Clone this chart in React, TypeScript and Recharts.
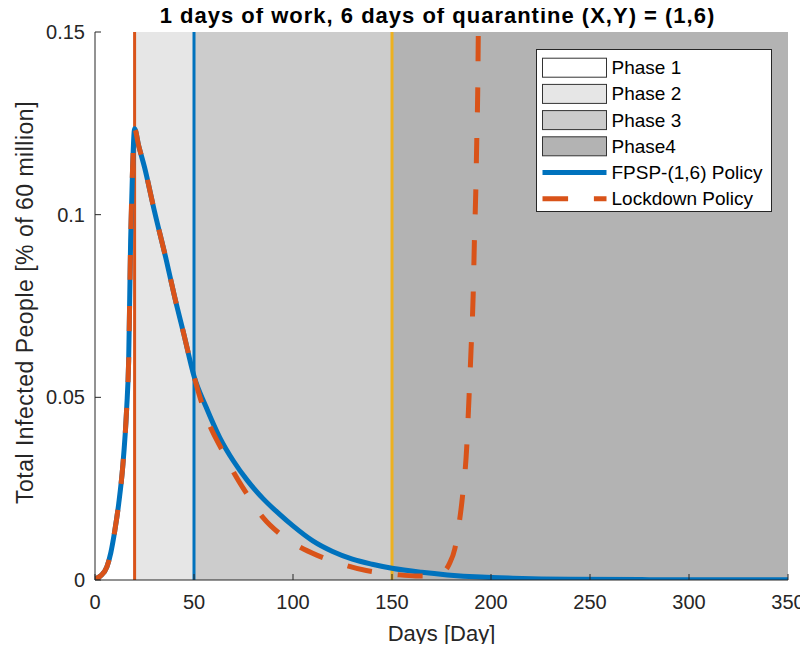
import React from 'react';
import { LineChart, Line, XAxis, YAxis, ReferenceArea, ReferenceLine, Legend } from 'recharts';

const titleText = '1 days of work, 6 days of quarantine (X,Y) = (1,6)';
const xLabelText = 'Days [Day]';
const yLabelText = 'Total Infected People [% of 60 million]';

const xTicks = [0, 50, 100, 150, 200, 250, 300, 350];
const yTicks = [0, 0.05, 0.1, 0.15];

const phaseNames = ['Phase 1', 'Phase 2', 'Phase 3', 'Phase4'];
const phaseStarts = [0, 20, 50, 150];
const phaseEnds = [20, 50, 150, 350];
const phaseColors = ['#ffffff', '#e6e6e6', '#cccccc', '#b3b3b3'];

const markerDays = [20, 50, 150];
const markerColors = ['#D95319', '#0072BD', '#EDB120'];

const fpspName = 'FPSP-(1,6) Policy';
const lockName = 'Lockdown Policy';

const fpspDays = [0, 3, 6, 8, 10, 12, 14, 16, 17, 18, 19, 20, 22, 25, 30, 36, 40, 45, 50, 56, 63, 70, 77, 85, 93, 100, 110, 120, 130, 140, 150, 165, 178, 195, 211, 240, 280, 350];
const fpspValues = [0.0003, 0.0012, 0.0036, 0.0075, 0.0135, 0.021, 0.031, 0.047, 0.06, 0.093, 0.113, 0.1235, 0.119, 0.113, 0.101, 0.0876, 0.078, 0.067, 0.0558, 0.0475, 0.039, 0.0325, 0.0272, 0.0222, 0.0181, 0.0148, 0.0107, 0.0078, 0.0057, 0.0043, 0.0032, 0.0021, 0.0014, 0.0008, 0.0005, 0.0002, 0.0001, 0.00005];

const lockDays = [0, 3, 6, 8, 10, 12, 14, 16, 17, 18, 19, 20, 22, 25, 30, 36, 40, 45, 50, 56, 65, 70, 77, 85, 93, 100, 112, 125, 137, 144, 152, 162, 168, 173, 177, 179, 181.7, 183.5, 185.5, 187.7, 188.9, 190, 191, 191.6, 192.3, 192.8, 193.3, 193.6, 194.3];
const lockValues = [0.0003, 0.0012, 0.0036, 0.0075, 0.0135, 0.021, 0.031, 0.047, 0.06, 0.093, 0.113, 0.1235, 0.119, 0.113, 0.101, 0.0876, 0.078, 0.067, 0.0558, 0.045, 0.0347, 0.0295, 0.0233, 0.017, 0.0128, 0.0101, 0.0068, 0.0043, 0.0026, 0.002, 0.0015, 0.0011, 0.0011, 0.0016, 0.0027, 0.0045, 0.0085, 0.014, 0.0224, 0.036, 0.05, 0.064, 0.078, 0.0925, 0.106, 0.12, 0.134, 0.15, 0.17];

const fpspData = fpspDays.map((d, i) => ({ day: d, value: fpspValues[i] }));
const lockData = lockDays.map((d, i) => ({ day: d, value: lockValues[i] }));

const FONT = '"Liberation Sans", Arial, Helvetica, sans-serif';
const AXIS = '#262626';

const LegendBox = () => {
  const rowH = 26.2;
  const y0 = 18.7;
  return (
    <svg width={236} height={164} style={{ display: 'block' }}>
      <rect x={0.5} y={0.5} width={235} height={162} fill="#ffffff" stroke={AXIS} strokeWidth={1} />
      {phaseNames.map((n, i) => (
        <g key={n}>
          <rect x={6.5} y={y0 + i * rowH - 9.5} width={64} height={19} fill={phaseColors[i]} stroke="#333333" strokeWidth={1} />
          <text x={75.5} y={y0 + i * rowH} dominantBaseline="central" fontFamily={FONT} fontSize={19} fill="#000">{n}</text>
        </g>
      ))}
      <line x1={6.5} x2={70.5} y1={y0 + 4 * rowH} y2={y0 + 4 * rowH} stroke="#0072BD" strokeWidth={5} />
      <text x={75.5} y={y0 + 4 * rowH} dominantBaseline="central" fontFamily={FONT} fontSize={19} fill="#000">{fpspName}</text>
      <line x1={6.5} x2={70.5} y1={y0 + 5 * rowH} y2={y0 + 5 * rowH} stroke="#D95319" strokeWidth={5} strokeDasharray="25.6 25.8" />
      <text x={75.5} y={y0 + 5 * rowH} dominantBaseline="central" fontFamily={FONT} fontSize={19} fill="#000">{lockName}</text>
    </svg>
  );
};

const XLabel = (props: any) => {
  const vb = props.viewBox || {};
  const cx = (vb.x || 0) + (vb.width || 0) / 2;
  return (
    <g>
      <text x={cx - 4} y={23} textAnchor="middle" fontFamily={FONT} fontSize={22} fontWeight="bold" letterSpacing={1} fill="#000">{titleText}</text>
      <text x={cx} y={(vb.y || 0) + 53} textAnchor="middle" dominantBaseline="central" fontFamily={FONT} fontSize={22} fill={AXIS}>{xLabelText}</text>
    </g>
  );
};

const YLabel = (props: any) => {
  const vb = props.viewBox || {};
  const cx = (vb.x || 0) + 25;
  const cy = (vb.y || 0) + (vb.height || 0) / 2 - 3.5;
  return (
    <text x={cx} y={cy} transform={`rotate(-90, ${cx}, ${cy})`} textAnchor="middle" dominantBaseline="central" fontFamily={FONT} fontSize={23} letterSpacing={0.5} fill={AXIS}>{yLabelText}</text>
  );
};

const EmptyTick = () => <g />;

export default function App() {
  return (
    <div style={{ width: 808, height: 652, margin: -8 }}>
      <LineChart width={808} height={652} margin={{ top: 32, right: 20, bottom: 12, left: 0 }}>
        {phaseNames.map((n, i) => (
          <ReferenceArea key={n} x1={phaseStarts[i]} x2={phaseEnds[i]} y1={0} y2={0.15} fill={phaseColors[i]} fillOpacity={1} stroke="none" ifOverflow="hidden" />
        ))}
        <XAxis
          dataKey="day"
          type="number"
          domain={[0, 350]}
          ticks={xTicks}
          allowDataOverflow
          height={60}
          tickSize={-6}
          tickMargin={21}
          stroke={AXIS}
          tick={{ fill: AXIS, fontSize: 20, fontFamily: FONT }}
          label={{ content: XLabel }}
        />
        <XAxis
          xAxisId="top"
          orientation="top"
          type="number"
          domain={[0, 350]}
          ticks={xTicks}
          height={0}
          tickSize={-6}
          stroke={AXIS}
          tick={EmptyTick}
        />
        <YAxis
          type="number"
          domain={[0, 0.15]}
          ticks={yTicks}
          allowDataOverflow
          width={95}
          tickSize={-6}
          tickMargin={16}
          stroke={AXIS}
          tick={{ fill: AXIS, fontSize: 20, fontFamily: FONT }}
          tickFormatter={(v: number) => (v === 0 ? '0' : String(v))}
          label={{ content: YLabel }}
        />
        <YAxis
          yAxisId="right"
          orientation="right"
          type="number"
          domain={[0, 0.15]}
          ticks={yTicks}
          width={0}
          tickSize={-6}
          stroke={AXIS}
          tick={EmptyTick}
        />
        {markerDays.map((d, i) => (
          <ReferenceLine key={d} x={d} stroke={markerColors[i]} strokeWidth={3} ifOverflow="hidden" />
        ))}
        <Line data={fpspData} dataKey="value" name={fpspName} type="monotone" stroke="#0072BD" strokeWidth={5} dot={false} activeDot={false} isAnimationActive={false} />
        <Line data={lockData} dataKey="value" name={lockName} type="monotone" stroke="#D95319" strokeWidth={5} strokeDasharray="25 26" dot={false} activeDot={false} isAnimationActive={false} />
        <Legend
          layout="horizontal"
          verticalAlign="middle"
          align="center"
          wrapperStyle={{ left: 536, top: 49, width: 236, height: 164 }}
          content={() => <LegendBox />}
        />
      </LineChart>
    </div>
  );
}
